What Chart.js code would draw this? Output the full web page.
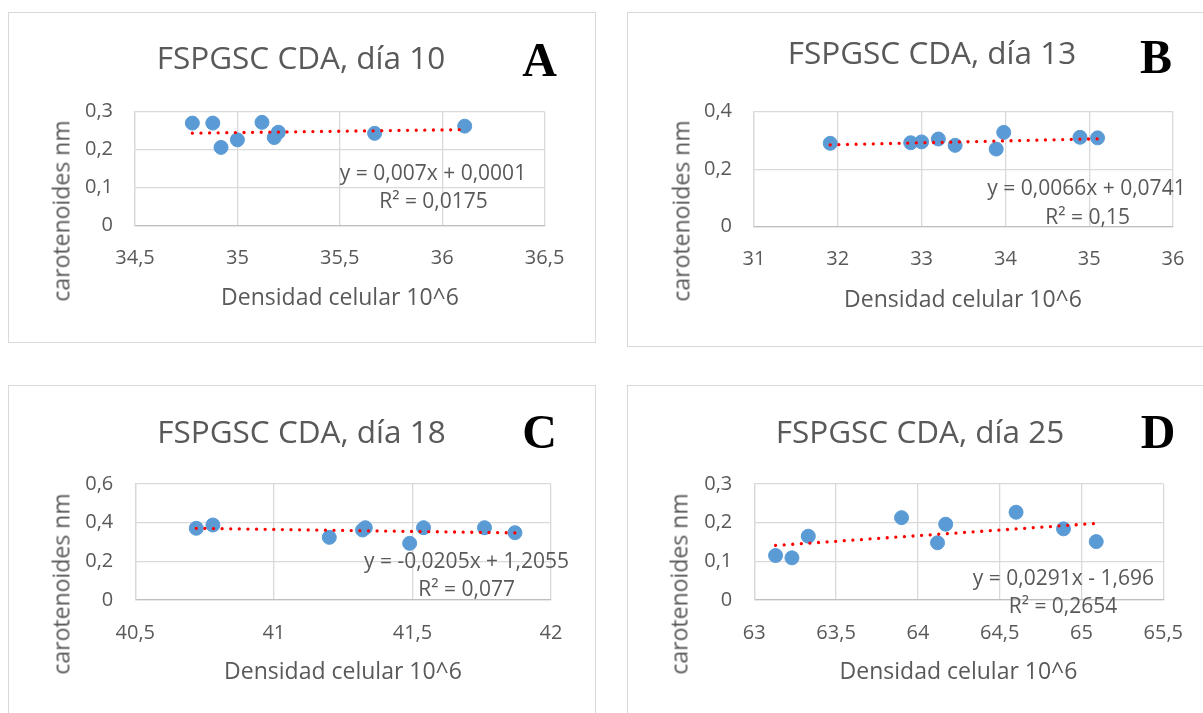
<!DOCTYPE html>
<html>
<head>
<meta charset="utf-8">
<script src="https://cdn.jsdelivr.net/npm/chart.js@4"></script>
<style>
  html, body { margin: 0; padding: 0; background: #fff; overflow: hidden; width: 1203px; height: 713px; }
  .frame { position: absolute; border: 1px solid #d9d9d9; box-sizing: border-box; }
  canvas { position: absolute; }
  .txt { position: absolute; white-space: nowrap; font-family: "Open Sans", sans-serif; color: #595959;
         line-height: 1; transform: translate(-50%, -50%); }
  .letter { font-family: "Liberation Serif", serif; font-weight: bold; color: #000; }
</style>
</head>
<body>
<script>
// ---- data ----
const xA = [34.78, 34.88, 34.92, 35.00, 35.12, 35.18, 35.20, 35.67, 36.11];
const yA = [0.270, 0.270, 0.206, 0.226, 0.272, 0.232, 0.246, 0.243, 0.262];
const xB = [31.91, 32.87, 33.00, 33.20, 33.40, 33.89, 33.98, 34.89, 35.10];
const yB = [0.290, 0.292, 0.295, 0.305, 0.283, 0.270, 0.328, 0.311, 0.309];
const xC = [40.72, 40.78, 41.20, 41.32, 41.33, 41.49, 41.54, 41.76, 41.87];
const yC = [0.371, 0.388, 0.324, 0.362, 0.374, 0.293, 0.374, 0.374, 0.348];
const xD = [63.13, 63.23, 63.33, 63.90, 64.12, 64.17, 64.60, 64.89, 65.09];
const yD = [0.115, 0.109, 0.165, 0.213, 0.148, 0.196, 0.227, 0.184, 0.151];

// trendline coefficients as printed: [slope, intercept]
const fitA = [0.007, 0.0001];
const fitB = [0.0066, 0.0741];
const fitC = [-0.0205, 1.2055];
const fitD = [0.0291, -1.696];

// axis limits: [min, max, step]
const xAxisA = [34.5, 36.5, 0.5], yAxisA = [0, 0.3, 0.1];
const xAxisB = [31, 36, 1],       yAxisB = [0, 0.4, 0.2];
const xAxisC = [40.5, 42, 0.5],   yAxisC = [0, 0.6, 0.2];
const xAxisD = [63, 65.5, 0.5],   yAxisD = [0, 0.3, 0.1];

const titles = ['FSPGSC CDA, día 10', 'FSPGSC CDA, día 13', 'FSPGSC CDA, día 18', 'FSPGSC CDA, día 25'];
const letters = ['A', 'B', 'C', 'D'];
const equations = [
  ['y = 0,007x + 0,0001', 'R² = 0,0175'],
  ['y = 0,0066x + 0,0741', 'R² = 0,15'],
  ['y = -0,0205x + 1,2055', 'R² = 0,077'],
  ['y = 0,0291x - 1,696', 'R² = 0,2654']
];
const xTitle = 'Densidad celular 10^6';
const yTitle = 'carotenoides nm';

// ---- layout (page pixels) ----
const panels = [
  { x: xA, y: yA, fit: fitA, xa: xAxisA, ya: yAxisA,
    box: [8, 12, 588, 331], area: [127, 536.6, 99.7, 213.7],
    title: [301, 57], letter: [539.5, 60], eq: [[433, 171.5], [433.5, 200]], yt: [61, 211], xt: [340, 296] },
  { x: xB, y: yB, fit: fitB, xa: xAxisB, ya: yAxisB,
    box: [627, 12, 610, 335], area: [127, 546, 99.7, 214.7],
    title: [932, 52], letter: [1156, 57], eq: [[1086.5, 186.7], [1087.6, 216]], yt: [681, 211], xt: [963, 298] },
  { x: xC, y: yC, fit: fitC, xa: xAxisC, ya: yAxisC,
    box: [8, 385, 588, 331], area: [127.3, 543, 99, 215],
    title: [301.5, 431], letter: [539.5, 431.5], eq: [[466.5, 560], [466.7, 588.3]], yt: [61, 583.5], xt: [343, 670] },
  { x: xD, y: yD, fit: fitD, xa: xAxisD, ya: yAxisD,
    box: [627, 385, 610, 331], area: [127.3, 536.3, 99, 215],
    title: [920, 431], letter: [1158, 431.5], eq: [[1063.4, 576.7], [1063, 605]], yt: [679, 583.5], xt: [958.5, 670] }
];

const fmt = v => String(Math.round(v * 100) / 100).replace('.', ',');

function addText(text, cx, cy, size, cls, rotate) {
  const d = document.createElement('div');
  d.className = 'txt' + (cls ? ' ' + cls : '');
  d.textContent = text;
  d.style.left = cx + 'px';
  d.style.top = cy + 'px';
  d.style.fontSize = size + 'px';
  if (rotate) d.style.transform = 'translate(-50%, -50%) rotate(-90deg)';
  document.body.appendChild(d);
}

panels.forEach((p, i) => {
  const [bx, by, bw, bh] = p.box;
  const [al, ar, at, ab] = p.area;

  const frame = document.createElement('div');
  frame.className = 'frame';
  Object.assign(frame.style, { left: bx + 'px', top: by + 'px', width: bw + 'px', height: bh + 'px' });
  document.body.appendChild(frame);

  const canvas = document.createElement('canvas');
  canvas.width = bw; canvas.height = bh;
  Object.assign(canvas.style, { left: bx + 'px', top: by + 'px', width: bw + 'px', height: bh + 'px' });
  document.body.appendChild(canvas);

  const points = p.x.map((v, k) => ({ x: v, y: p.y[k] }));
  const x0 = Math.min(...p.x), x1 = Math.max(...p.x);
  const trend = [x0, x1].map(v => ({ x: v, y: p.fit[0] * v + p.fit[1] }));

  new Chart(canvas, {
    type: 'scatter',
    data: {
      datasets: [
        { data: trend, showLine: true, pointRadius: 0, borderColor: '#ff0000', borderWidth: 3.3,
          borderDash: [0.01, 8.6], borderCapStyle: 'round', order: 0 },
        { data: points, pointRadius: 7, pointBorderWidth: 1, backgroundColor: '#5b9bd5',
          borderColor: '#5b9bd5', order: 1 }
      ]
    },
    options: {
      responsive: false,
      animation: false,
      layout: { padding: { left: 0, top: at, right: bw - ar, bottom: 0 } },
      plugins: { legend: { display: false }, tooltip: { enabled: false } },
      scales: {
        x: {
          type: 'linear', min: p.xa[0], max: p.xa[1],
          ticks: { stepSize: p.xa[2], callback: fmt, color: '#595959', padding: 21,
                   font: { family: 'Open Sans', size: 20 }, maxRotation: 0, autoSkip: false },
          grid: { color: '#d9d9d9', lineWidth: 1.3, drawTicks: false },
          border: { color: '#bfbfbf', width: 1.3 },
          afterFit: s => { s.height = bh - ab; }
        },
        y: {
          min: p.ya[0], max: p.ya[1],
          ticks: { stepSize: p.ya[2], callback: fmt, color: '#595959', padding: 22,
                   font: { family: 'Open Sans', size: 20 } },
          grid: { color: '#d9d9d9', lineWidth: 1.3, drawTicks: false },
          border: { color: '#d9d9d9', width: 1.3 },
          afterFit: s => { s.width = al; }
        }
      }
    }
  });

  addText(titles[i], p.title[0], p.title[1], 31.5);
  addText(letters[i], p.letter[0], p.letter[1], 48, 'letter');
  addText(equations[i][0], p.eq[0][0], p.eq[0][1], 21);
  addText(equations[i][1], p.eq[1][0], p.eq[1][1], 21);
  addText(yTitle, p.yt[0], p.yt[1], 23, '', true);
  addText(xTitle, p.xt[0], p.xt[1], 23);
});
</script>
</body>
</html>
